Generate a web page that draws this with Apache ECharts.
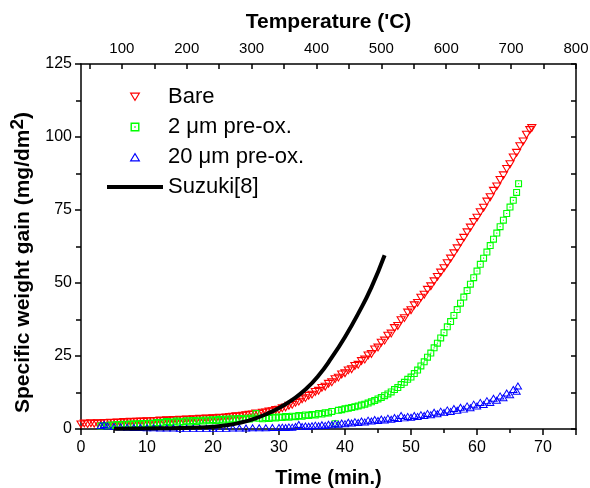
<!DOCTYPE html>
<html><head><meta charset="utf-8">
<script src="https://cdn.jsdelivr.net/npm/echarts@6/dist/echarts.min.js"></script>
<style>html,body{margin:0;padding:0;background:#fff}#c{width:590px;height:488px}</style>
</head><body><div id="c"></div>
<script>
// ---- data ----
const seriesNames = ['Bare', '2 \u03bcm pre-ox.', '20 \u03bcm pre-ox.', 'Suzuki[8]'];

// [time (min), specific weight gain (mg/dm2)]
const bare = [
[0,1.5],[0.5,1.8],[1,1.6],[1.5,1.9],[2,1.7],[2.5,1.9],[3,1.8],[3.5,2.0],[4,1.9],[4.5,2.1],[5,2.0],[5.5,2.2],[6,2.1],[6.5,2.3],[7,2.2],[7.5,2.4],[8,2.3],[8.5,2.4],[9,2.5],[9.5,2.4],[10,2.6],
[10.5,2.5],[11,2.7],[11.5,2.6],[12,2.8],[12.5,2.7],[13,2.9],[13.5,2.8],[14,3.0],[14.5,2.9],[15,3.1],[15.5,3.0],[16,3.2],[16.5,3.1],[17,3.3],[17.5,3.2],[18,3.4],[18.5,3.3],[19,3.5],[19.5,3.4],[20,3.6],
[20.5,3.6],[21,3.8],[21.5,3.7],[22,3.9],[22.5,4.0],[23,4.1],[23.5,4.3],[24,4.2],[24.5,4.5],[25,4.6],[25.5,4.8],[26,4.9],[26.5,5.2],[27,5.1],[27.5,5.5],[28,5.6],[28.5,5.9],[29,6.0],[29.5,6.4],[30,6.5],
[30.5,7.0],[31,7.3],[31.5,7.9],[32,8.2],[32.5,8.9],[33,9.3],[33.5,10.1],[34,10.5],[34.5,11.3],[35,11.7],[35.5,12.6],[36,13.0],[36.5,14.0],[37,14.4],[37.5,15.4],[38,15.9],[38.5,17.0],[39,17.5],[39.5,18.6],[40,19.0],
[40.5,20.0],[41,20.4],[41.5,21.5],[42,21.9],[42.5,23.2],[43,23.7],[43.5,25.1],[44,25.6],[44.5,27.2],[45,27.8],[45.5,29.5],[46,30.2],[46.5,31.9],[47,32.6],[47.5,34.5],[48,35.2],[48.5,37.2],[49,37.9],[49.5,39.8],[50,40.6],
[50.5,42.3],[51,43.1],[51.5,44.9],[52,45.9],[52.5,47.6],[53,48.8],[53.5,50.5],[54,52.0],[54.5,53.5],[55,55.0],[55.5,56.7],[56,58.3],[56.5,60.1],[57,61.8],[57.5,63.7],[58,65.4],[58.5,67.3],[59,68.9],[59.5,70.8],[60,72.3],
[60.5,74.2],[61,75.7],[61.5,77.8],[62,79.3],[62.5,81.5],[63,83.0],[63.5,85.2],[64,86.8],[64.5,89.0],[65,90.6],[65.5,92.9],[66,94.5],[66.5,96.8],[67,98.4],[67.5,100.7],[68,102.3],[68.3,103.0]
];

const preox2 = [
[3,1.0],[3.5,1.2],[4,1.1],[4.5,1.4],[5,1.3],[5.5,1.5],[6,1.4],[6.5,1.6],[7,1.5],[7.5,1.7],[8,1.6],[8.5,1.8],[9,1.7],[9.5,1.9],[10,1.8],[10.5,2.0],[11,1.9],[11.5,2.2],[12,2.0],[12.5,2.3],
[13,2.6],[13.5,2.2],[14,2.4],[14.5,2.7],[15,2.3],[15.5,2.5],[16,2.8],[16.5,2.4],[17,2.9],[17.5,2.6],[18,3.0],[18.5,2.7],[19,3.1],[19.5,2.8],[20,3.2],[20.5,2.9],[21,3.3],[21.5,3.0],[22,3.4],[22.5,3.1],
[23,3.5],[23.5,3.2],[24,3.6],[24.5,3.3],[25,3.7],[25.5,3.4],[26,3.8],[26.5,5.3],[27,3.7],[27.5,3.5],[28,3.9],[28.5,3.6],[29,4.0],[29.5,3.8],[30,4.1],[30.5,3.9],[31,4.3],[31.5,4.0],[32,4.4],[32.5,4.2],
[33,4.6],[33.5,4.4],[34,4.8],[34.5,4.6],[35,5.0],[35.5,4.8],[36,5.3],[36.5,5.1],[37,5.6],[37.5,5.5],[38,6.0],[38.5,1.8],[39,6.4],[39.5,6.6],[40,6.9],[40.5,7.1],[41,7.4],[41.5,7.6],[42,7.9],[42.5,8.2],
[43,8.5],[43.5,8.9],[44,9.3],[44.5,9.8],[45,10.3],[45.5,10.8],[46,11.4],[46.5,12.0],[47,12.7],[47.5,13.5],[48,14.2],[48.5,15.2],[49,16.0],[49.5,17.0],[50,17.8],[50.5,19.0],[51,20.2],[51.5,21.6],[52,23.0],[52.5,24.6],
[53,26.0],[53.5,27.8],[54,29.4],[54.5,31.2],[55,33.0],[55.5,35.0],[56,36.8],[56.5,38.9],[57,40.9],[57.5,43.1],[58,45.2],[58.5,47.4],[59,49.6],[59.5,51.8],[60,54.1],[60.5,56.4],[61,58.5],[61.5,60.6],[62,62.8],[62.5,65.0],
[63,67.1],[63.5,69.3],[64,71.5],[64.5,73.8],[65,76.0],[65.5,78.3],[66,81.0],[66.3,84.0]
];

const preox20 = [
[3,1.3],[3.5,1.6],[4,1.1],[5,0.9],[6,0.8],[7,0.7],[8,0.6],[9,0.6],[10,0.5],[11,0.5],[12,0.4],[13,0.4],[14,0.4],[15,0.3],[16,0.3],[17,0.3],[18,0.3],[19,0.3],[20,0.3],[21,0.3],[22,0.3],[23,0.4],[24,0.4],[25,0.4],[26,0.5],[27,0.5],[28,0.5],[29,0.6],[30,0.6],
[30.5,0.7],[31,0.6],[31.5,0.8],[32,0.7],[32.5,0.9],[33,1.6],[33.5,0.9],[34,1.1],[34.5,1.0],[35,1.2],[35.5,1.4],[36,1.2],[36.5,1.5],[37,1.3],[37.5,1.7],[38,1.5],[38.5,1.9],[39,1.7],[39.5,2.1],[40,1.9],
[40.5,2.4],[41,2.1],[41.5,2.6],[42,2.3],[42.5,2.8],[43,2.5],[43.5,3.1],[44,2.8],[44.5,3.3],[45,3.0],[45.5,3.5],[46,3.2],[46.5,3.8],[47,3.4],[47.5,4.0],[48,3.7],[48.5,4.7],[49,3.9],[49.5,4.4],[50,4.1],
[50.5,4.7],[51,4.4],[51.5,5.0],[52,4.7],[52.5,5.4],[53,5.0],[53.5,5.8],[54,5.3],[54.5,6.2],[55,5.7],[55.5,6.6],[56,6.1],[56.5,7.1],[57,6.5],[57.5,7.5],[58,6.9],[58.5,8.0],[59,7.4],[59.5,8.6],[60,8.0],
[60.5,9.2],[61,8.5],[61.5,9.8],[62,9.2],[62.5,10.6],[63,9.9],[63.5,11.4],[64,10.8],[64.5,12.4],[65,11.8],[65.5,13.6],[66,13.0],[66.2,14.8]
];

const suzuki = [
[5,0.1],[10,0.2],[15,0.3],[18,0.5],[20,0.8],[22,1.3],[24,2.1],[26,3.3],[28,5.0],[30,7.2],[32,10.0],[34,13.5],[36,18.3],[38,24.5],[40,31.5],[42,39.5],[44,48.5],[46,59.5]
];

const tempLabelValues = [100, 200, 300, 400, 500, 600, 700, 800];
const tempTickValues = [50, 100, 150, 200, 250, 300, 350, 400, 450, 500, 550, 600, 650, 700, 750, 800];

// ---- marker shapes ----
const triDown = 'path://M0 0L12 0L6 10ZM2.29 1.3L6 7.48L9.71 1.3Z';
const triUp = 'path://M6 0L12 10L0 10ZM6 2.52L2.29 8.7L9.71 8.7Z';
const sqDot = 'path://M0 0L10 0L10 10L0 10ZM1.6 1.6L1.6 8.4L8.4 8.4L8.4 1.6ZM4.2 4.2L5.8 4.2L5.8 5.8L4.2 5.8Z';
const lineIcon = 'path://M0 0L56 0L56 4L0 4Z';

const FONT = 'Liberation Sans, Arial, sans-serif';
const axisLineStyle = { color: '#000', width: 1.5 };

const chart = echarts.init(document.getElementById('c'), null, { renderer: 'canvas' });
chart.setOption({
  animation: false,
  backgroundColor: '#fff',
  textStyle: { fontFamily: FONT, color: '#000' },
  grid: { left: 81, right: 14, top: 64, bottom: 59, show: false, containLabel: false, outerBoundsMode: 'none' },
  legend: {
    left: 102, top: 80, orient: 'vertical',
    itemWidth: 56, itemHeight: 9, itemGap: 6,
    textStyle: { fontSize: 22, fontFamily: FONT, color: '#000', lineHeight: 24 },
    data: [
      { name: seriesNames[0] },
      { name: seriesNames[1] },
      { name: seriesNames[2] },
      { name: seriesNames[3], icon: lineIcon }
    ]
  },
  xAxis: [
    {
      type: 'value', position: 'bottom', min: 0, max: 75, interval: 10,
      axisLine: { show: true, onZero: false, lineStyle: axisLineStyle },
      axisTick: { show: true, inside: false, length: 6, lineStyle: axisLineStyle },
      minorTick: { show: true, splitNumber: 2, length: 4, lineStyle: axisLineStyle },
      axisLabel: { fontSize: 16, color: '#000', margin: 11, showMaxLabel: false, fontFamily: FONT },
      splitLine: { show: false },
      name: 'Time (min.)', nameLocation: 'middle', nameGap: 39, nameMoveOverlap: false,
      nameTextStyle: { fontSize: 20, fontWeight: 'bold', color: '#000', fontFamily: FONT }
    },
    {
      type: 'value', position: 'top', min: 37, max: 800,
      axisLine: { show: true, onZero: false, lineStyle: axisLineStyle },
      axisTick: { show: true, inside: true, length: 5, lineStyle: axisLineStyle, customValues: tempTickValues },
      axisLabel: { fontSize: 15, color: '#000', margin: 8, fontFamily: FONT, customValues: tempLabelValues },
      splitLine: { show: false },
      name: "Temperature ('C)", nameLocation: 'middle', nameGap: 31, nameMoveOverlap: false,
      nameTextStyle: { fontSize: 21, fontWeight: 'bold', color: '#000', fontFamily: FONT }
    }
  ],
  yAxis: [
    {
      type: 'value', position: 'left', min: 0, max: 125, interval: 25,
      axisLine: { show: true, onZero: false, lineStyle: axisLineStyle },
      axisTick: { show: true, inside: false, length: 6, lineStyle: axisLineStyle },
      minorTick: { show: true, splitNumber: 2, length: 5, lineStyle: axisLineStyle },
      axisLabel: { fontSize: 16, color: '#000', margin: 9, fontFamily: FONT },
      splitLine: { show: false },
      name: '{n|Specific weight gain (mg/dm}{s|2}{n|)}', nameLocation: 'middle', nameGap: 42, nameRotate: 90,
      nameMoveOverlap: false,
      nameTextStyle: {
        fontFamily: FONT,
        padding: [0, 32, 0, 0],
        rich: {
          n: { fontSize: 21, fontWeight: 'bold', color: '#000', fontFamily: FONT },
          s: { fontSize: 19, fontWeight: 'bold', color: '#000', fontFamily: FONT, padding: [0, 0, 12, 0] }
        }
      }
    },
    {
      type: 'value', position: 'right', min: 0, max: 125, interval: 12.5,
      axisLine: { show: true, onZero: false, lineStyle: axisLineStyle },
      axisTick: { show: true, inside: true, length: 5, lineStyle: axisLineStyle },
      axisLabel: { show: false },
      splitLine: { show: false }
    }
  ],
  series: [
    {
      name: seriesNames[0], type: 'scatter', xAxisIndex: 0, yAxisIndex: 0,
      data: bare, symbol: triDown, symbolSize: [10, 8.4],
      itemStyle: { color: '#ff0000', opacity: 1 }
    },
    {
      name: seriesNames[1], type: 'scatter', xAxisIndex: 0, yAxisIndex: 0,
      data: preox2, symbol: sqDot, symbolSize: [7, 7],
      itemStyle: { color: '#00ff00', opacity: 1 }
    },
    {
      name: seriesNames[2], type: 'scatter', xAxisIndex: 0, yAxisIndex: 0,
      data: preox20, symbol: triUp, symbolSize: [9, 7.5],
      itemStyle: { color: '#0000ff', opacity: 1 }
    },
    {
      name: seriesNames[3], type: 'line', xAxisIndex: 0, yAxisIndex: 0,
      data: suzuki, smooth: true, showSymbol: false, symbol: 'none',
      lineStyle: { color: '#000', width: 4 }, itemStyle: { color: '#000' }
    }
  ]
});
</script>
</body></html>
